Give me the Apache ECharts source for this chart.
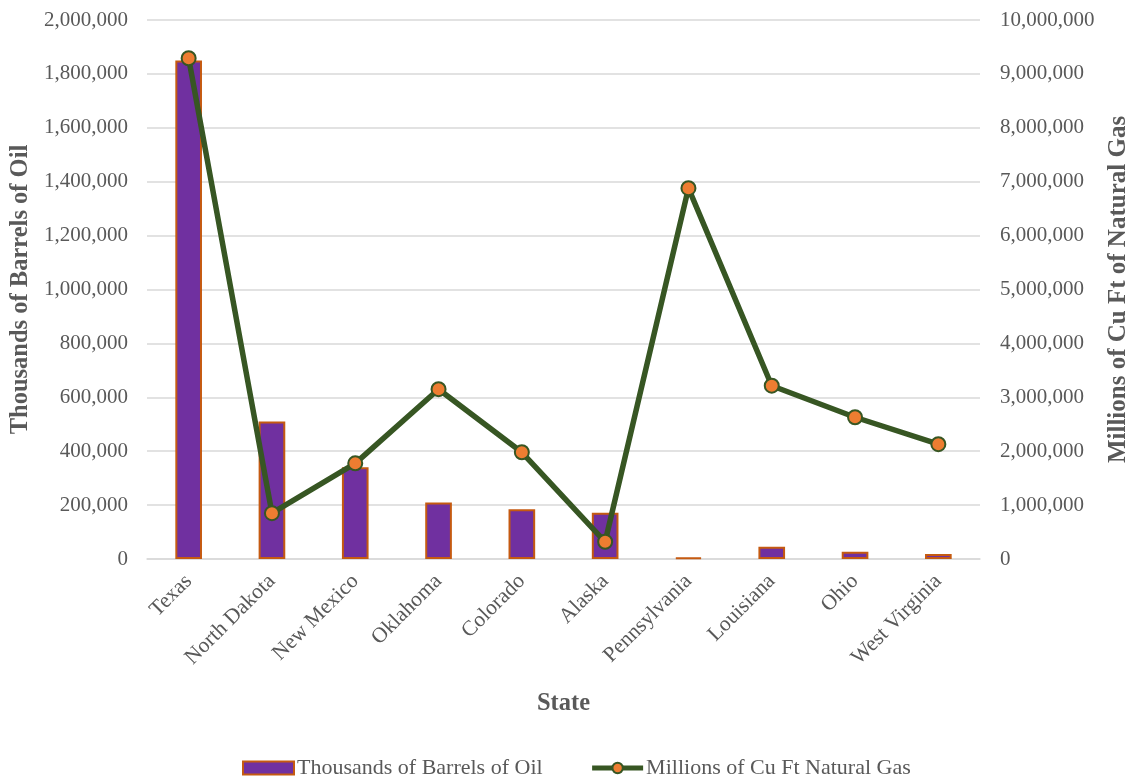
<!DOCTYPE html>
<html>
<head>
<meta charset="utf-8">
<script src="https://cdn.jsdelivr.net/npm/echarts@6/dist/echarts.min.js"></script>
<style>
  html, body { margin: 0; padding: 0; background: #ffffff; }
  #chart { width: 1133px; height: 780px; }
</style>
</head>
<body>
<div id="chart"></div>
<script>
// Top producing states: oil (thousands of barrels) and natural gas (millions of cu ft)
const states = ['Texas', 'North Dakota', 'New Mexico', 'Oklahoma', 'Colorado',
  'Alaska', 'Pennsylvania', 'Louisiana', 'Ohio', 'West Virginia'];
const oilThousandBarrels = [1850000, 510000, 340000, 210000, 185000, 172000, 5000, 45000, 27000, 18500];
const gasMillionCuFt = [9290000, 850000, 1775000, 3150000, 1980000, 320000, 6880000, 3215000, 2630000, 2130000];

const oilName = 'Thousands of Barrels of Oil';
const gasName = 'Millions of Cu Ft of Natural Gas';
const gasLegend = 'Millions of Cu Ft Natural Gas';

const serif = '"Liberation Serif", "DejaVu Serif", serif';
const grey = '#595959';
const green = '#375623';
const fmt = v => v.toLocaleString('en-US');

const chart = echarts.init(document.getElementById('chart'));
chart.setOption({
  animation: false,
  textStyle: { fontFamily: serif, color: grey },
  grid: { left: 147, right: 153, top: 20, bottom: 221, containLabel: false, outerBoundsMode: 'none' },
  legend: {
    top: 752,
    left: 237,
    itemGap: 47,
    itemWidth: 51,
    itemHeight: 13,
    textStyle: { fontFamily: serif, fontSize: 22, color: grey, padding: [0, 0, 0, -2] },
    data: [
      { name: oilName, icon: 'rect' },
      { name: gasLegend, lineStyle: { width: 5, color: green } }
    ]
  },
  xAxis: {
    type: 'category',
    data: states,
    name: 'State',
    nameLocation: 'middle',
    nameGap: 132,
    nameTextStyle: { fontFamily: serif, fontSize: 24.5, fontWeight: 'bold', color: grey },
    axisLine: { show: true, lineStyle: { color: '#D9D9D9', width: 1.5 } },
    axisTick: { show: false },
    axisLabel: { rotate: 45, fontSize: 21.5, color: grey, fontFamily: serif, margin: 19 }
  },
  yAxis: [
    {
      type: 'value',
      min: 0, max: 2000000, interval: 200000,
      name: oilName,
      nameLocation: 'middle',
      nameGap: 109,
      nameTextStyle: { fontFamily: serif, fontSize: 24.5, fontWeight: 'bold', color: grey },
      axisLine: { show: false },
      axisTick: { show: false },
      axisLabel: { fontSize: 21, color: grey, fontFamily: serif, margin: 19, formatter: fmt },
      splitLine: { lineStyle: { color: '#D9D9D9', width: 1.5 } }
    },
    {
      type: 'value',
      min: 0, max: 10000000, interval: 1000000,
      name: gasName,
      nameLocation: 'middle',
      nameGap: 126,
      nameRotate: 90,
      nameTextStyle: { fontFamily: serif, fontSize: 25, fontWeight: 'bold', color: grey },
      axisLine: { show: false },
      axisTick: { show: false },
      axisLabel: { fontSize: 21, color: grey, fontFamily: serif, margin: 20, formatter: fmt },
      splitLine: { show: false }
    }
  ],
  series: [
    {
      name: oilName,
      type: 'bar',
      yAxisIndex: 0,
      data: oilThousandBarrels,
      barWidth: '32%',
      itemStyle: { color: '#7030A0', borderColor: '#C55A11', borderWidth: 2 }
    },
    {
      name: gasLegend,
      type: 'line',
      yAxisIndex: 1,
      data: gasMillionCuFt,
      symbol: 'circle',
      symbolSize: 14,
      lineStyle: { color: green, width: 5.5 },
      itemStyle: { color: '#ED7D31', borderColor: green, borderWidth: 2 }
    }
  ]
});
</script>
</body>
</html>
